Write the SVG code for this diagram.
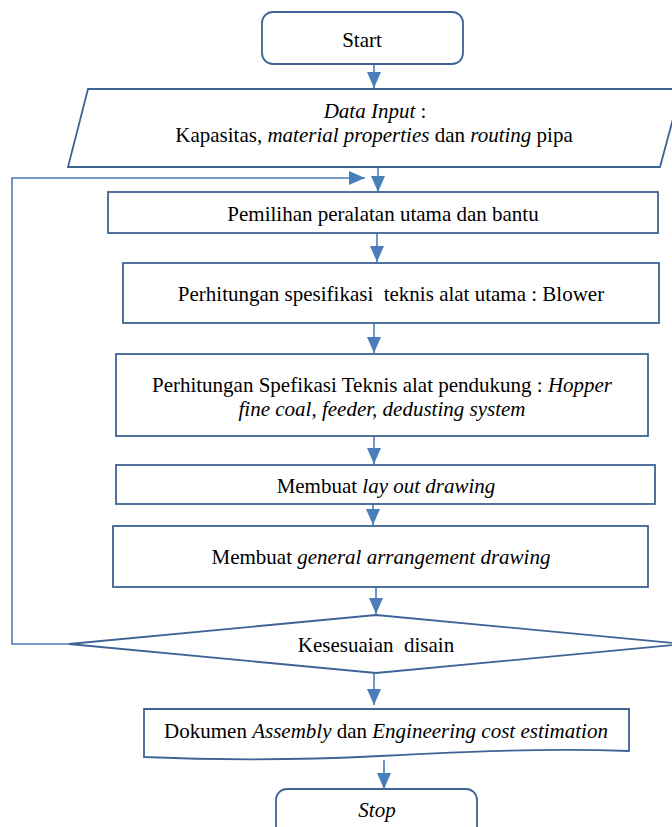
<svg xmlns="http://www.w3.org/2000/svg" width="672" height="827" viewBox="0 0 672 827">
<style>
.shape{fill:#ffffff;stroke:#3d6494;stroke-width:1.8}
.conn{fill:none;stroke:#4a7ebb;stroke-width:1.6}
text{font-family:"Liberation Serif","Times New Roman",serif;font-size:21px;fill:#000;text-anchor:middle}
.i{font-style:italic}
</style>
<defs>
<marker id="ah" markerUnits="userSpaceOnUse" markerWidth="16" markerHeight="14" refX="16" refY="7" orient="auto">
<path d="M0,0 L16,7 L0,14 Z" fill="#4a7ebb"/>
</marker>
</defs>
<rect width="672" height="827" fill="#ffffff"/>
<g id="connectors">
<line class="conn" x1="374" y1="64" x2="374" y2="88" marker-end="url(#ah)"/>
<line class="conn" x1="378" y1="164" x2="378" y2="192" marker-end="url(#ah)"/>
<polyline class="conn" points="69,644 12,644 12,178 365,178" marker-end="url(#ah)"/>
<line class="conn" x1="377" y1="233" x2="377" y2="262" marker-end="url(#ah)"/>
<line class="conn" x1="374" y1="323" x2="374" y2="353" marker-end="url(#ah)"/>
<line class="conn" x1="374" y1="436" x2="374" y2="464" marker-end="url(#ah)"/>
<line class="conn" x1="373" y1="504" x2="373" y2="525" marker-end="url(#ah)"/>
<line class="conn" x1="376" y1="587" x2="376" y2="614" marker-end="url(#ah)"/>
<line class="conn" x1="374" y1="673" x2="374" y2="705" marker-end="url(#ah)"/>
<line class="conn" x1="384" y1="760" x2="384" y2="789" marker-end="url(#ah)"/>
</g>
<g id="start">
<rect class="shape" x="262" y="12" width="201" height="52" rx="11"/>
<text x="362" y="47">Start</text>
</g>
<g id="input">
<polygon class="shape" points="88,89 681,89 660,167 68,167"/>
<text x="375" y="118"><tspan class="i">Data Input</tspan> :</text>
<text x="374" y="142">Kapasitas, <tspan class="i">material properties</tspan> dan <tspan class="i">routing</tspan> pipa</text>
</g>
<g id="pemilihan">
<rect class="shape" x="108" y="192" width="550" height="41"/>
<text x="383" y="221">Pemilihan peralatan utama dan bantu</text>
</g>
<g id="blower">
<rect class="shape" x="123" y="263" width="536" height="60"/>
<text x="391" y="301" xml:space="preserve">Perhitungan spesifikasi  teknis alat utama : Blower</text>
</g>
<g id="pendukung">
<rect class="shape" x="116" y="354" width="532" height="82"/>
<text x="382" y="392">Perhitungan Spefikasi Teknis alat pendukung : <tspan class="i">Hopper</tspan></text>
<text x="382" y="416" class="i">fine coal, feeder, dedusting system</text>
</g>
<g id="layout">
<rect class="shape" x="116" y="465" width="539" height="39"/>
<text x="386" y="493">Membuat <tspan class="i">lay out drawing</tspan></text>
</g>
<g id="ga">
<rect class="shape" x="113" y="526" width="535" height="61"/>
<text x="381" y="564">Membuat <tspan class="i">general arrangement drawing</tspan></text>
</g>
<g id="decision">
<polygon class="shape" points="376,615 683,644 376,673 69,644"/>
<text x="376" y="652" xml:space="preserve">Kesesuaian  disain</text>
</g>
<g id="dokumen">
<path class="shape" d="M144,709 H629 V751 C540,748 460,752 380,756 C300,760 210,760 144,757 Z"/>
<text x="386" y="738">Dokumen <tspan class="i">Assembly</tspan> dan <tspan class="i">Engineering cost estimation</tspan></text>
</g>
<g id="stop">
<rect class="shape" x="276" y="789" width="201" height="52" rx="11"/>
<text x="377" y="817" class="i">Stop</text>
</g>
</svg>
